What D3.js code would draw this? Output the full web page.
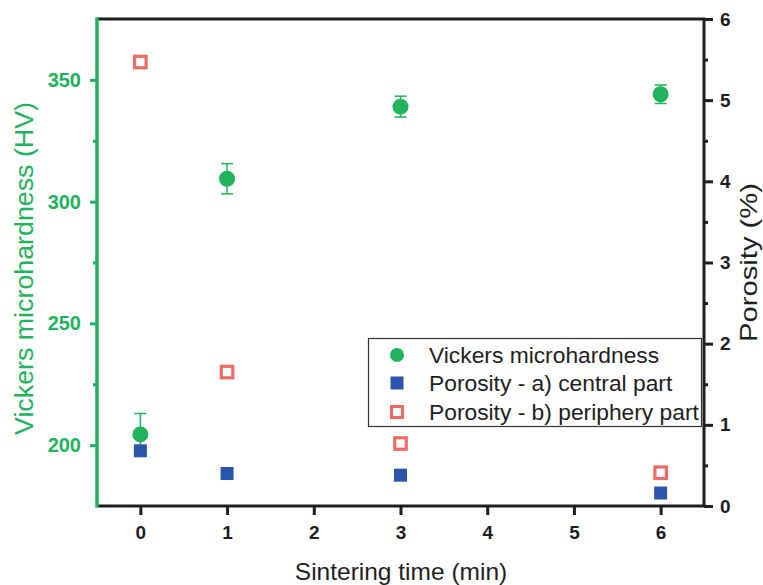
<!DOCTYPE html>
<html><head><meta charset="utf-8">
<script src="https://cdn.jsdelivr.net/npm/d3@7"></script>
<style>
html,body{margin:0;padding:0;background:#fff;}
svg{display:block;font-family:"Liberation Sans",Arial,Helvetica,sans-serif;}
</style></head>
<body>
<svg id="chart" width="763" height="585"></svg>
<script>
// ---- data ----
const times = [0, 1, 3, 6];
const hardness = [204.4, 309.4, 339.0, 344.1];
const hardnessErr = [8.6, 6.2, 4.3, 3.8];
const porosityCentral = [0.68, 0.40, 0.38, 0.16];
const porosityPeriphery = [5.47, 1.65, 0.77, 0.41];
const xTicks = [0, 1, 2, 3, 4, 5, 6];
const leftTicks = [200, 250, 300, 350];
const leftMinor = [225, 275, 325];
const rightTicks = [0, 1, 2, 3, 4, 5, 6];
const rightMinor = [0.5, 1.5, 2.5, 3.5, 4.5, 5.5];
const legendLabels = ["Vickers microhardness", "Porosity - a) central part", "Porosity - b) periphery part"];

const GREEN = "#20b25c", BLUE = "#2b55a8", RED = "#ee6a64", DARK = "#1e1e1e";
const L = 97, R = 704, T = 19, B = 506;

const svg = d3.select("#chart");
const x = d3.scaleLinear().domain([-0.5, 6.5]).range([L, R]);
const yL = d3.scaleLinear().domain([175, 375]).range([B, T]);
const yR = d3.scaleLinear().domain([0, 6]).range([B, T]);

function styleAxis(g, color, width) {
  g.select(".domain").remove();
  g.selectAll(".tick line").attr("stroke", color).attr("stroke-width", width);
}

// bottom axis
const gx = svg.append("g").attr("transform", `translate(0,${B})`)
  .call(d3.axisBottom(x).tickValues(xTicks).tickSize(9).tickPadding(11).tickFormat(d3.format("d")));
styleAxis(gx, DARK, 3);
gx.selectAll("text").attr("fill", DARK).attr("font-size", 19).attr("font-weight", "bold")
  .attr("font-family", "Liberation Sans, Arial, sans-serif");

// left axis
const gl = svg.append("g").attr("transform", `translate(${L},0)`)
  .call(d3.axisLeft(yL).tickValues(leftTicks).tickSize(7).tickPadding(9).tickFormat(d3.format("d")));
styleAxis(gl, GREEN, 3);
gl.selectAll("text").attr("fill", GREEN).attr("font-size", 20).attr("font-weight", "bold")
  .attr("font-family", "Liberation Sans, Arial, sans-serif");
const glm = svg.append("g").attr("transform", `translate(${L},0)`)
  .call(d3.axisLeft(yL).tickValues(leftMinor).tickSize(4).tickFormat(""));
styleAxis(glm, GREEN, 3);

// right axis
const gr = svg.append("g").attr("transform", `translate(${R},0)`)
  .call(d3.axisRight(yR).tickValues(rightTicks).tickSize(9).tickPadding(7).tickFormat(d3.format("d")));
styleAxis(gr, DARK, 3);
gr.selectAll("text").attr("fill", DARK).attr("font-size", 19).attr("font-weight", "bold")
  .attr("font-family", "Liberation Sans, Arial, sans-serif");
const grm = svg.append("g").attr("transform", `translate(${R},0)`)
  .call(d3.axisRight(yR).tickValues(rightMinor).tickSize(4).tickFormat(""));
styleAxis(grm, DARK, 3);

// frame
svg.append("line").attr("x1", L).attr("x2", R + 1.5).attr("y1", T).attr("y2", T).attr("stroke", DARK).attr("stroke-width", 3);
svg.append("line").attr("x1", L).attr("x2", R + 1.5).attr("y1", B).attr("y2", B).attr("stroke", DARK).attr("stroke-width", 3);
svg.append("line").attr("x1", R).attr("x2", R).attr("y1", T).attr("y2", B).attr("stroke", DARK).attr("stroke-width", 3);
svg.append("line").attr("x1", L).attr("x2", L).attr("y1", T - 1.5).attr("y2", B + 1.5).attr("stroke", GREEN).attr("stroke-width", 3.5);

// error bars
const eb = svg.append("g");
times.forEach((t, i) => {
  const cx = x(t), y1 = yL(hardness[i] + hardnessErr[i]), y2 = yL(hardness[i] - hardnessErr[i]);
  eb.append("line").attr("x1", cx).attr("x2", cx).attr("y1", y1).attr("y2", y2).attr("stroke", GREEN).attr("stroke-width", 1.5);
  [y1, y2].forEach(yy => eb.append("line").attr("x1", cx - 6).attr("x2", cx + 6).attr("y1", yy).attr("y2", yy).attr("stroke", GREEN).attr("stroke-width", 1.5));
});

// hardness circles
svg.append("g").selectAll("circle").data(times).join("circle")
  .attr("cx", d => x(d)).attr("cy", (d, i) => yL(hardness[i])).attr("r", 8).attr("fill", GREEN);

// central squares
const sq = 13;
svg.append("g").selectAll("rect").data(times).join("rect")
  .attr("x", d => x(d) - sq / 2).attr("y", (d, i) => yR(porosityCentral[i]) - sq / 2)
  .attr("width", sq).attr("height", sq).attr("fill", BLUE);

// periphery open squares
const osq = 11.5;
svg.append("g").selectAll("rect").data(times).join("rect")
  .attr("x", d => x(d) - osq / 2).attr("y", (d, i) => yR(porosityPeriphery[i]) - osq / 2)
  .attr("width", osq).attr("height", osq).attr("fill", "#fff").attr("stroke", RED).attr("stroke-width", 3.2);

// legend
const lg = svg.append("g");
lg.append("rect").attr("x", 368.5).attr("y", 338.5).attr("width", 333).attr("height", 88)
  .attr("fill", "#fff").attr("stroke", "#333").attr("stroke-width", 1.2);
const ly = [355, 383, 412];
lg.append("circle").attr("cx", 397).attr("cy", ly[0]).attr("r", 7).attr("fill", GREEN);
lg.append("rect").attr("x", 397 - 6.5).attr("y", ly[1] - 6.5).attr("width", 13).attr("height", 13).attr("fill", BLUE);
lg.append("rect").attr("x", 397 - 5.5).attr("y", ly[2] - 5.5).attr("width", 11).attr("height", 11)
  .attr("fill", "#fff").attr("stroke", RED).attr("stroke-width", 3);
legendLabels.forEach((t, i) => {
  lg.append("text").attr("x", 429).attr("y", ly[i] + 8).attr("font-size", 22.8).attr("fill", DARK).text(t);
});

// axis titles
svg.append("text").attr("transform", "translate(33,268.5) rotate(-90)").attr("text-anchor", "middle")
  .attr("font-size", 25).attr("fill", GREEN).attr("textLength", 333).attr("lengthAdjust", "spacingAndGlyphs")
  .text("Vickers microhardness (HV)");
svg.append("text").attr("transform", "translate(757,262.5) rotate(-90)").attr("text-anchor", "middle")
  .attr("font-size", 24).attr("fill", DARK).attr("textLength", 159).attr("lengthAdjust", "spacingAndGlyphs")
  .text("Porosity (%)");
svg.append("text").attr("x", 401).attr("y", 580).attr("text-anchor", "middle")
  .attr("font-size", 24.5).attr("fill", DARK).text("Sintering time (min)");
</script>
</body></html>
